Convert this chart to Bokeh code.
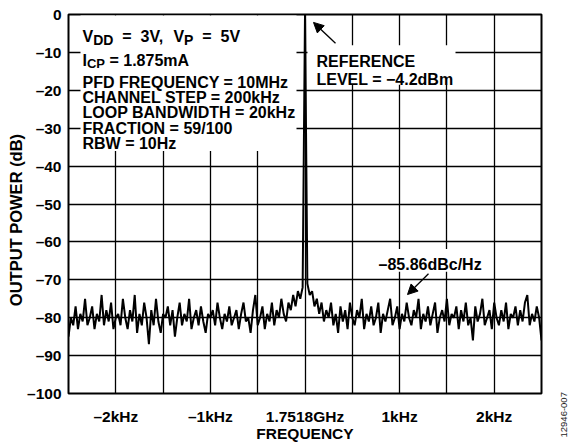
import math
from bokeh.plotting import figure
from bokeh.layouts import row
from bokeh.models import Range1d, FixedTicker, Label, BoxAnnotation, Arrow, NormalHead, Title
from bokeh.embed import file_html
from bokeh.resources import INLINE

# ---------------- data ----------------
span_hz = [-2500, 2500]
power_db = [
    -85, -80, -82, -77, -83, -79, -81, -75, -82, -80, -77, -83, -79, -81, -74, -82, -78, -81, -76, -83, -80,
    -79, -82, -75, -80, -83, -78, -81, -74, -84, -79, -82, -76, -80, -87, -78, -82, -75, -81, -84, -79,
    -80, -77, -82, -78, -85, -80, -76, -82, -79, -81, -75, -83, -80, -78, -82, -77, -81, -84, -79, -80,
    -78, -82, -76, -80, -83, -79, -81, -77, -82, -80, -78, -83, -79, -76, -81, -80, -84, -78, -74, -82,
    -80, -77, -83, -79, -81, -76, -82, -78, -80, -75, -79, -81, -76, -78, -74, -77, -73, -75, -72,
    0,
    -71, -74, -73, -77, -75, -79, -76, -81, -78, -80, -76, -82, -79, -84, -77, -81, -78, -83, -76, -80,
    -82, -78, -80, -75, -83, -79, -81, -77, -82, -80, -76, -84, -79, -81, -78, -75, -82, -80, -77, -83,
    -79, -81, -76, -80, -82, -78, -80, -75, -83, -79, -81, -77, -82, -79, -76, -84, -80, -78, -81, -75,
    -82, -79, -80, -77, -83, -78, -81, -76, -82, -80, -86, -77, -81, -79, -75, -82, -80, -78, -83, -76,
    -80, -82, -78, -81, -76, -83, -79, -80, -77, -82, -78, -81, -76, -74, -82, -79, -81, -77, -80, -86,
]
x_tick_values = [-2000, -1000, 0, 1000, 2000]
x_tick_labels = ["–2kHz", "–1kHz", "1.7518GHz", "1kHz", "2kHz"]
x_grid_values = [-2000, -1500, -1000, -500, 0, 500, 1000, 1500, 2000]
y_tick_values = [0, -10, -20, -30, -40, -50, -60, -70, -80, -90, -100]
y_tick_labels = ["0", "–10", "–20", "–30", "–40", "–50", "–60", "–70", "–80", "–90", "–100"]

n = len(power_db)
step = (span_hz[1] - span_hz[0]) / (n - 1)
freq_hz = [span_hz[0] + i * step for i in range(n)]

# ---------------- layout helpers ----------------
W, H = 543, 444          # main figure; a narrow strip to its right carries the figure code
SIDE_W = 568 - W
FL, FR, FT, FB = 68, 541, 14, 397  # frame edges in px


def px2x(px):
    return span_hz[0] + (px - FL) * (span_hz[1] - span_hz[0]) / (FR - FL)


def px2y(py):
    return -(py - FT) * 100.0 / (FB - FT)


FONT = "Liberation Sans"

p = figure(width=W, height=H, x_range=Range1d(span_hz[0], span_hz[1]), y_range=Range1d(-100, 0),
           output_backend="svg", toolbar_location=None, title=None,
           min_border_left=FL, min_border_right=W - FR, min_border_top=FT,
           min_border_bottom=H - FB)
p.background_fill_color = "white"
p.border_fill_color = "white"
p.outline_line_color = "black"
p.outline_line_width = 2

p.xaxis.ticker = FixedTicker(ticks=x_tick_values)
p.xaxis.major_label_overrides = {v: t for v, t in zip(x_tick_values, x_tick_labels)}
p.yaxis.ticker = FixedTicker(ticks=y_tick_values)
p.yaxis.major_label_overrides = {v: t for v, t in zip(y_tick_values, y_tick_labels)}
p.xgrid.ticker = FixedTicker(ticks=x_grid_values)
p.ygrid.ticker = FixedTicker(ticks=y_tick_values)
for g in (p.xgrid, p.ygrid):
    g.grid_line_color = "black"
    g.grid_line_width = 1.3
    g.grid_line_alpha = 1.0
for ax in (p.xaxis, p.yaxis):
    ax.axis_line_color = None
    ax.major_tick_line_color = None
    ax.minor_tick_line_color = None
    ax.major_tick_out = 0
    ax.major_tick_in = 0
    ax.major_label_text_font = FONT
    ax.major_label_text_font_style = "bold"
    ax.major_label_text_font_size = "15.5px"
    ax.major_label_text_color = "black"
p.xaxis.major_label_standoff = 14
p.yaxis.major_label_standoff = 7
p.xaxis.axis_label = "FREQUENCY"
p.xaxis.axis_label_standoff = -3
p.xaxis.axis_label_text_font = FONT
p.xaxis.axis_label_text_font_style = "bold"
p.xaxis.axis_label_text_font_size = "15.5px"
p.xaxis.axis_label_text_color = "black"

# trailing no-break spaces nudge the centred vertical title downwards, as in the reference
p.add_layout(Title(text="OUTPUT POWER (dB)" + "\u00a0" * 7, align="center", standoff=0,
                   text_font=FONT, text_font_style="bold", text_font_size="16.5px",
                   text_color="black"), "left")

# white boxes behind annotation texts
for (l, r, t, b) in [(80, 296, 15, 152), (307, 455, 45, 85), (376, 481, 251, 274)]:
    p.add_layout(BoxAnnotation(left=px2x(l), right=px2x(r), top=px2y(t), bottom=px2y(b),
                               fill_color="white", fill_alpha=1.0, line_color=None, level="underlay"))

p.line(freq_hz, power_db, line_color="black", line_width=2)

# ---------------- annotations ----------------
CW = {" ": 278, "V": 667, "D": 722, "P": 667, "I": 278, "C": 722, "=": 584, "3": 556, "5": 556,
      ",": 278, "1": 556, ".": 278, "8": 556, "7": 556, "m": 889, "A": 722}


def tw(s, size):
    return sum(CW.get(c, 556) for c in s) * size / 1000.0


def lab(x, y, text, size=16, bold=True, **kw):
    p.add_layout(Label(x=px2x(x), y=px2y(y), text=text, text_font=FONT,
                       text_font_style="bold" if bold else "normal",
                       text_font_size=f"{size}px", text_color=kw.pop("color", "black"),
                       text_align=kw.pop("align", "left"),
                       text_baseline=kw.pop("baseline", "alphabetic"), **kw))


def sub_line(x, y, pieces, main=16, sub=13, drop=4, space=1.0):
    for txt, is_sub in pieces:
        size = sub if is_sub else main
        lead = len(txt) - len(txt.lstrip(" "))
        x += lead * tw(" ", size) * space
        core = txt.strip(" ")
        lab(x, y + (drop if is_sub else 0), core, size=size)
        x += tw(core, size)


sub_line(82, 36, [("V", False), ("DD", True), (" =", False), (" 3V,", False), (" V", False),
                  ("P", True), (" =", False), (" 5V", False)], sub=14, space=2.0)
sub_line(82, 60, [("I", False), ("CP", True), (" = 1.875mA", False)])
for yy, t in [(83, "PFD FREQUENCY = 10MHz"), (98, "CHANNEL STEP = 200kHz"),
              (113, "LOOP BANDWIDTH = 20kHz"), (129, "FRACTION = 59/100"), (144, "RBW = 10Hz")]:
    lab(82, yy, t)

lab(316, 62, "REFERENCE")
lab(316, 80, "LEVEL = −4.2dBm")
lab(378, 267, "–85.86dBc/Hz")

p.add_layout(Arrow(end=NormalHead(size=10, fill_color="black", line_color="black"),
                   x_start=px2x(335), y_start=px2y(43), x_end=px2x(313), y_end=px2y(22),
                   line_color="black", line_width=1.3))
p.add_layout(Arrow(end=NormalHead(size=10, fill_color="black", line_color="black"),
                   x_start=px2x(428), y_start=px2y(276), x_end=px2x(407), y_end=px2y(297),
                   line_color="black", line_width=1.3))

# ---------------- side strip with the figure code ----------------
side = figure(width=SIDE_W, height=H, x_range=Range1d(0, 1), y_range=Range1d(0, 1),
              output_backend="svg", toolbar_location=None, title=None,
              x_axis_type=None, y_axis_type=None, min_border=0, min_border_left=SIDE_W - 2)
side.outline_line_color = None
side.background_fill_color = "white"
side.border_fill_color = "white"
side.grid.visible = False
# a left-side title starts at the frame bottom; a negative offset moves it below the frame
side.add_layout(Title(text="12946-007", align="left", offset=-44, standoff=0,
                      text_font=FONT, text_font_style="normal", text_font_size="9.5px",
                      text_color="#222222"), "left")

open("out.html", "w").write(file_html(row(p, side), INLINE))
